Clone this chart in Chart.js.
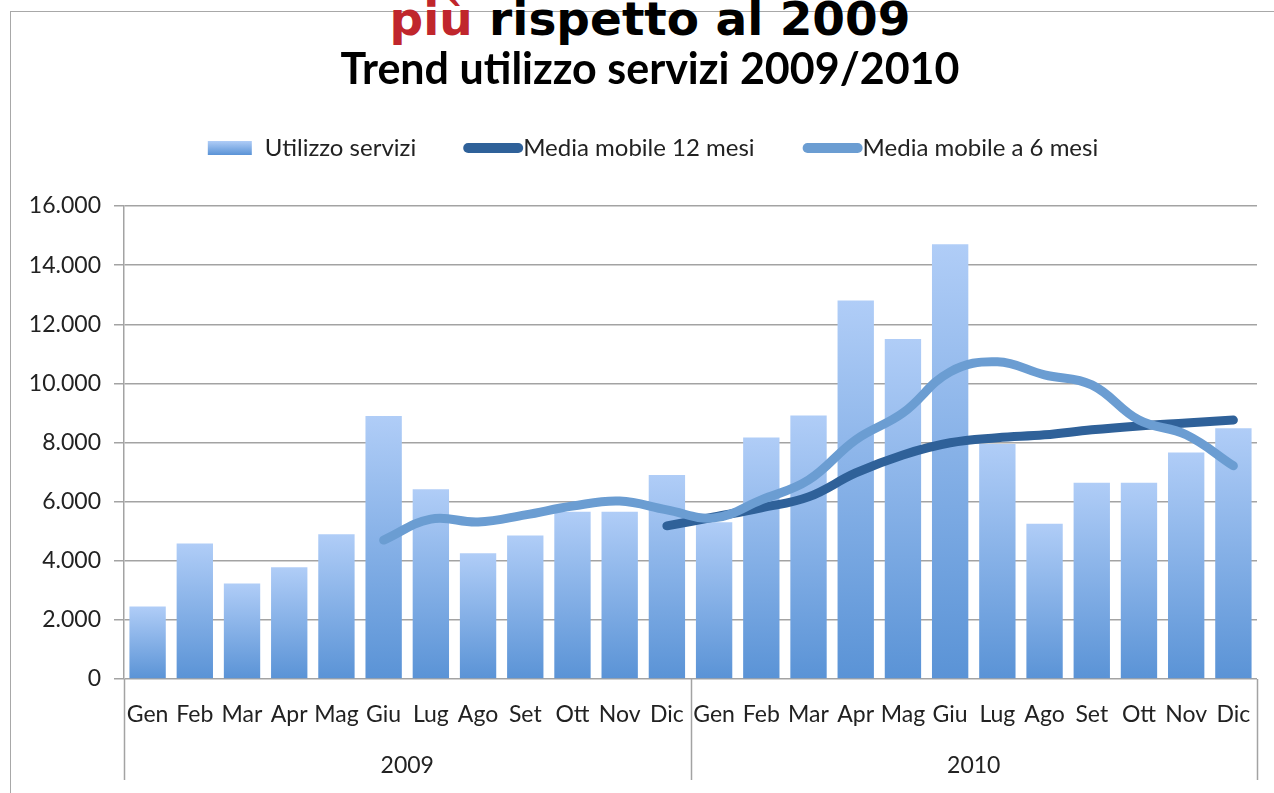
<!DOCTYPE html>
<html>
<head>
<meta charset="utf-8">
<script src="https://cdn.jsdelivr.net/npm/chart.js@4.4.0/dist/chart.umd.min.js"></script>
<style>
    body { margin: 0; background: #fff; overflow: hidden; }
    #cornice { position: absolute; left: 10px; top: 11px; width: 1300px; height: 820px; border: 1px solid #a8a8a8; }
    #titolo { position: absolute; left: 26px; width: 1248px; top: -5px; text-align: center;
              font: bold 47px "DejaVu Sans"; line-height: 47px; color: #000; white-space: nowrap; }
    #titolo span { color: #c0262c; }
    #contenitore { position: absolute; left: 0; top: 0; width: 1274px; height: 793px; }
</style>
</head>
<body>
<div id="cornice"></div>
<div id="titolo"><span>più</span> rispetto al 2009</div>
<div id="contenitore"><canvas id="chartServizi"></canvas></div>
<script>
const mesi = ['Gen', 'Feb', 'Mar', 'Apr', 'Mag', 'Giu', 'Lug', 'Ago', 'Set', 'Ott', 'Nov', 'Dic',
              'Gen', 'Feb', 'Mar', 'Apr', 'Mag', 'Giu', 'Lug', 'Ago', 'Set', 'Ott', 'Nov', 'Dic'];
const anni = ['2009', '2010'];

const utilizzoServizi = [2450, 4580, 3230, 3780, 4900, 8900, 6420, 4250, 4850, 5660, 5660, 6900,
                         5300, 8170, 8910, 12800, 11500, 14710, 7950, 5250, 6640, 6640, 7660, 8480];
const mediaMobile12 = [null, null, null, null, null, null, null, null, null, null, null, 5180,
                       5480, 5790, 6160, 6970, 7580, 7990, 8160, 8260, 8430, 8560, 8660, 8760];
const mediaMobile6 = [null, null, null, null, null, 4700, 5410, 5310, 5550, 5850, 6020, 5720,
                      5450, 6060, 6730, 8090, 9000, 10390, 10730, 10290, 9950, 8760, 8260, 7210];

const yTicks = [0, 2000, 4000, 6000, 8000, 10000, 12000, 14000, 16000];

const titoloGrafico = 'Trend utilizzo servizi 2009/2010';
const FONT = 'Lato';
const GRIGIO = '#a3a3a3';

function formatoNumero(v) {
    return String(v).replace(/\B(?=(\d{3})+(?!\d))/g, '.');
}

function gradienteBarra(ctx, yTop, yBottom) {
    const g = ctx.createLinearGradient(0, yTop, 0, yBottom);
    g.addColorStop(0, '#b0cdf7');
    g.addColorStop(1, '#5a93d6');
    return g;
}

// titolo, legenda e separatori degli anni
const decorazioni = {
    id: 'decorazioni',
    afterDraw(chart) {
        const ctx = chart.ctx;
        ctx.save();

        ctx.fillStyle = '#000';
        ctx.font = 'bold 43px ' + FONT;
        ctx.textAlign = 'center';
        ctx.textBaseline = 'alphabetic';
        ctx.fillText(titoloGrafico, 650, 84);

        // legenda
        ctx.font = '24px ' + FONT;
        ctx.textAlign = 'left';
        ctx.textBaseline = 'middle';
        const ds = chart.data.datasets;
        const w = ds.map(d => ctx.measureText(d.label).width);
        const totale = 44 + 13 + w[0] + 47 + 60 + w[1] + 48 + 60 + w[2];
        let x = 653 - totale / 2;
        const yl = 148;
        ctx.fillStyle = gradienteBarra(ctx, yl - 7, yl + 7);
        ctx.fillRect(x, yl - 7, 44, 14);
        x += 57;
        ctx.fillStyle = '#222';
        ctx.fillText(ds[0].label, x, yl);
        x += w[0] + 47;
        for (let i = 1; i < 3; i++) {
            ctx.strokeStyle = ds[i].borderColor;
            ctx.lineWidth = 10;
            ctx.lineCap = 'round';
            ctx.beginPath();
            ctx.moveTo(x + 5, yl);
            ctx.lineTo(x + 55, yl);
            ctx.stroke();
            x += 60;
            ctx.fillStyle = '#222';
            ctx.fillText(ds[i].label, x, yl);
            x += w[i] + 48;
        }

        // separatori anni
        const sx = chart.scales.x;
        ctx.strokeStyle = GRIGIO;
        ctx.lineWidth = 1.5;
        ctx.lineCap = 'butt';
        for (let i = 0; i <= anni.length; i++) {
            const px = Math.round(sx.getPixelForValue(i * 12 - 0.5)) + 0.5;
            ctx.beginPath();
            ctx.moveTo(px, chart.chartArea.bottom);
            ctx.lineTo(px, 780);
            ctx.stroke();
        }
        ctx.restore();
    }
};

new Chart(document.getElementById('chartServizi'), {
    type: 'bar',
    data: {
        labels: mesi,
        datasets: [
            {
                label: 'Utilizzo servizi',
                data: utilizzoServizi,
                order: 3,
                backgroundColor: function (context) {
                    const chart = context.chart;
                    if (!chart.chartArea || context.raw == null) return '#86b0e8';
                    const y = chart.scales.y;
                    return gradienteBarra(chart.ctx, y.getPixelForValue(context.raw), y.getPixelForValue(0));
                },
                barPercentage: 0.77,
                categoryPercentage: 1.0
            },
            {
                type: 'line',
                label: 'Media mobile 12 mesi',
                data: mediaMobile12,
                order: 2,
                borderColor: '#2f6199',
                borderWidth: 9,
                borderCapStyle: 'round',
                borderJoinStyle: 'round',
                pointRadius: 0,
                tension: 0.4,
                fill: false
            },
            {
                type: 'line',
                label: 'Media mobile a 6 mesi',
                data: mediaMobile6,
                order: 1,
                borderColor: '#6b9dd2',
                borderWidth: 9,
                borderCapStyle: 'round',
                borderJoinStyle: 'round',
                pointRadius: 0,
                tension: 0.4,
                fill: false
            }
        ]
    },
    options: {
        responsive: true,
        maintainAspectRatio: false,
        animation: false,
        layout: { padding: { top: 206, right: 17, left: 0, bottom: 0 } },
        plugins: {
            legend: { display: false },
            title: { display: false },
            tooltip: { enabled: false }
        },
        scales: {
            x: {
                grid: { display: false, drawTicks: false },
                border: { display: false },
                ticks: {
                    font: { family: FONT, size: 23 },
                    color: '#222',
                    padding: 22,
                    maxRotation: 0,
                    autoSkip: false
                },
                afterFit(scale) { scale.height = 60; }
            },
            x2: {
                type: 'category',
                labels: anni,
                position: 'bottom',
                offset: true,
                grid: { display: false, drawTicks: false },
                border: { display: false },
                ticks: {
                    font: { family: FONT, size: 23 },
                    color: '#222',
                    padding: 13,
                    maxRotation: 0
                },
                afterFit(scale) { scale.height = 54; }
            },
            y: {
                min: 0,
                max: 16000,
                afterBuildTicks(scale) { scale.ticks = yTicks.map(v => ({ value: v })); },
                grid: { color: GRIGIO, lineWidth: 1.5, tickLength: 10 },
                border: { color: GRIGIO, width: 1.5 },
                ticks: {
                    font: { family: FONT, size: 23 },
                    color: '#222',
                    padding: 13,
                    callback: v => formatoNumero(v)
                },
                afterFit(scale) { scale.width = 124; }
            }
        }
    },
    plugins: [decorazioni]
});
</script>
</body>
</html>
